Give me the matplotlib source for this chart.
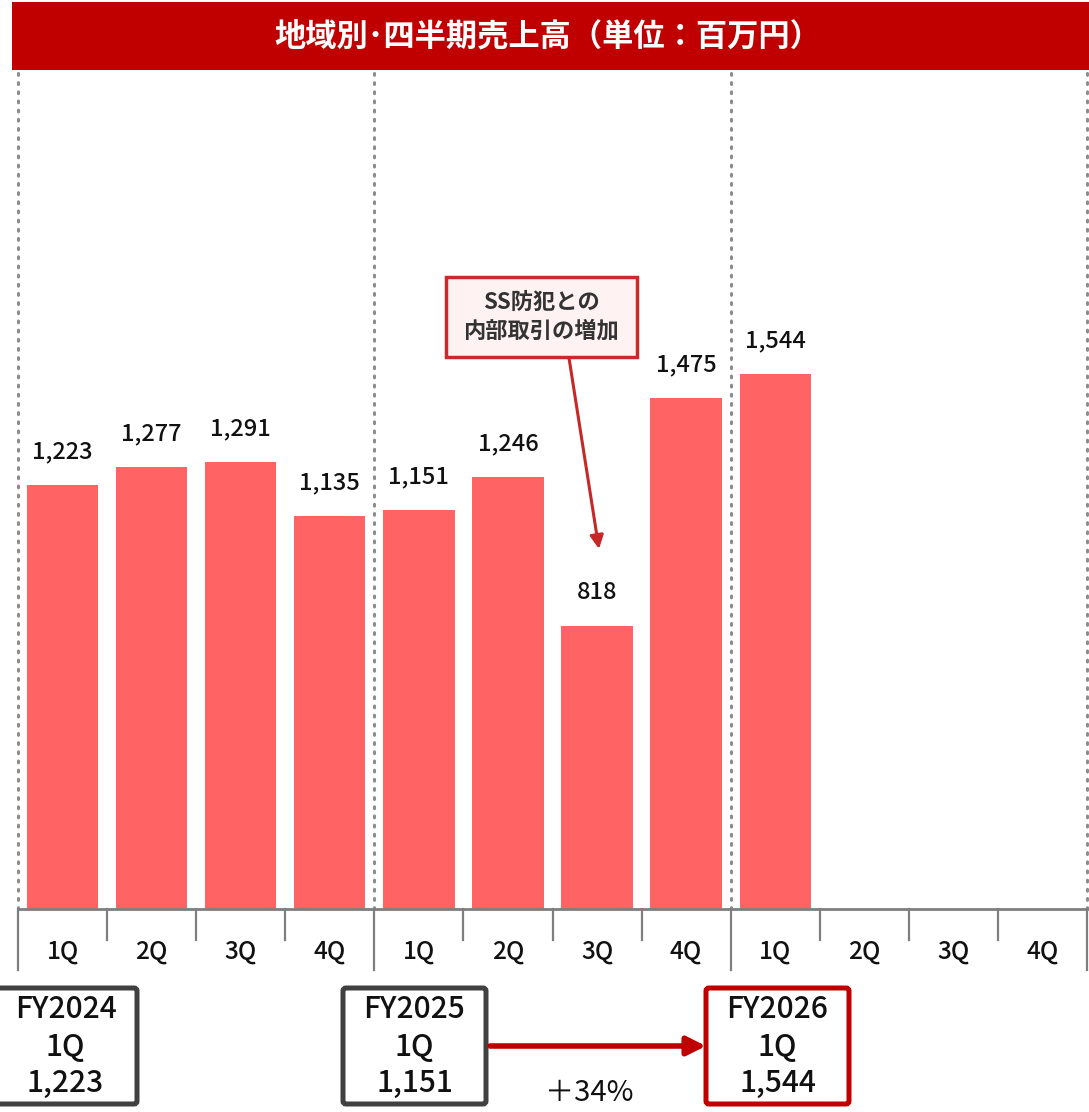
import matplotlib
matplotlib.use('Agg')
import matplotlib.pyplot as plt
from matplotlib.patches import Rectangle, FancyArrowPatch, FancyBboxPatch

plt.rcParams['font.family'] = ['Noto Sans CJK JP', 'DejaVu Sans']

# data
quarters = ['1Q', '2Q', '3Q', '4Q'] * 3
sales = [1223, 1277, 1291, 1135, 1151, 1246, 818, 1475, 1544]
title = '地域別･四半期売上高（単位：百万円）'
note = 'SS防犯との\n内部取引の増加'
fy_boxes = [('FY2024', '1Q', '1,223'), ('FY2025', '1Q', '1,151'), ('FY2026', '1Q', '1,544')]
growth = '＋34%'

W, H = 1089, 1112
fig = plt.figure(figsize=(W / 100, H / 100), dpi=100)

# main bar axes (pixel layout: x 18..1087, y 72..909)
x0, x1, ytop, ybase = 18, 1087, 72, 909
ax = fig.add_axes([x0 / W, (H - ybase) / H, (x1 - x0) / W, (ybase - ytop) / H])
ax.set_xlim(-0.5, 11.5)
ax.set_ylim(0, 2416)

bar_color = '#ff6363'
xs = list(range(len(sales)))
ax.bar(xs, sales, width=0.8, color=bar_color)
for x, v in zip(xs, sales):
    ax.text(x, v + 62, f'{v:,}', ha='center', va='bottom', fontsize=17,
            fontweight='medium', color='#111111')

for s in ['top', 'left', 'right']:
    ax.spines[s].set_visible(False)
ax.spines['bottom'].set_color('#7f7f7f')
ax.spines['bottom'].set_linewidth(2)
ax.set_yticks([])
ax.set_xticks([])

# dotted group separators
for gx in [-0.5, 3.5, 7.5, 11.5]:
    ax.axvline(gx, ymin=0, ymax=1, color='#8c8c8c', lw=2.2, ls=(0, (0.6, 2.4)),
               dash_capstyle='round', clip_on=False)

# tick marks and category labels below the axis
tr = ax.get_xaxis_transform()
unit = 1 / (ybase - ytop)
for i in range(13):
    bx = i - 0.5
    length = 61 if i % 4 == 0 else 31
    ax.plot([bx, bx], [0, -length * unit], transform=tr, color='#7f7f7f',
            lw=1.6, clip_on=False)
for i, q in enumerate(quarters):
    ax.text(i, -43 * unit, q, transform=tr, ha='center', va='center',
            fontsize=17.5, fontweight='medium', color='#111111')

# overlay in pixel coordinates for decorations
ov = fig.add_axes([0, 0, 1, 1])
ov.set_xlim(0, W)
ov.set_ylim(H, 0)
ov.axis('off')

# title bar
ov.add_patch(Rectangle((12, 2), W - 12, 68, facecolor='#c00000', edgecolor='none'))
ov.text(548, 37, title, ha='center', va='center', color='white',
        fontsize=22.5, fontweight='bold')

# callout
ov.add_patch(Rectangle((446, 277), 191, 80, facecolor='#fff2f2',
                       edgecolor='#cc2a2a', lw=2.5))
ov.text(541, 317, note, ha='center', va='center', fontsize=16,
        fontweight='bold', color='#333333', linespacing=1.3)
ov.annotate('', xy=(599, 549), xytext=(569, 358),
            arrowprops=dict(arrowstyle='-|>', color='#c62828', lw=2.2,
                            mutation_scale=20, shrinkA=0, shrinkB=0))

# FY boxes
box_specs = [(-6, '#404040'), (343, '#404040'), (706, '#c00000')]
for (bx, ec), (fy, q, val) in zip(box_specs, fy_boxes):
    ov.add_patch(FancyBboxPatch((bx, 988), 143, 116, boxstyle='round,pad=0,rounding_size=3',
                                facecolor='white', edgecolor=ec, lw=3.6))
    cx = bx + 143 / 2
    for ty, t in zip([1009, 1047, 1083], [fy, q, val]):
        ov.text(cx, ty, t, ha='center', va='center', fontsize=21.5,
                fontweight='medium', color='#111111')

ov.add_patch(FancyArrowPatch((490, 1046), (706, 1046), arrowstyle='-|>',
                             mutation_scale=28, color='#c00000', lw=4,
                             shrinkA=0, shrinkB=0))
ov.text(589, 1093, growth, ha='center', va='center', fontsize=21,
        color='#111111')

fig.savefig('out.png', dpi=100)
